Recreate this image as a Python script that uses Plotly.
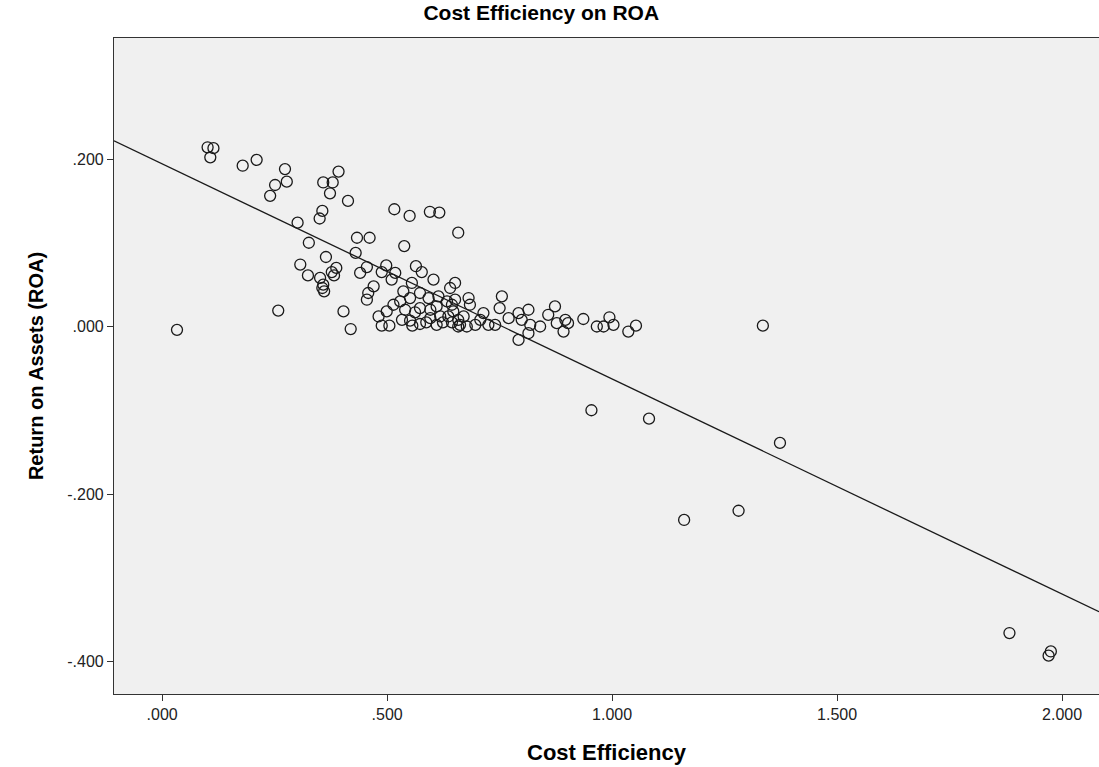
import numpy as np
import plotly.graph_objects as go

# Cost Efficiency (x) and Return on Assets (y)
cost_efficiency = [
    0.101, 0.114, 0.107, 0.179, 0.210, 0.273, 0.277, 0.251, 0.240, 0.358,
    0.379, 0.392, 0.373, 0.413, 0.356, 0.350, 0.301, 0.326, 0.364, 0.307,
    0.324, 0.351, 0.377, 0.387, 0.382, 0.358, 0.360, 0.356, 0.258, 0.033,
    0.403, 0.419, 0.433, 0.461, 0.430, 0.440, 0.455, 0.516, 0.550, 0.538,
    0.595, 0.616, 0.658, 0.498, 0.488, 0.518, 0.510, 0.564, 0.577, 0.603,
    0.470, 0.458, 0.455, 0.555, 0.536, 0.551, 0.529, 0.514, 0.499, 0.481,
    0.573, 0.592, 0.573, 0.596, 0.614, 0.633, 0.640, 0.651, 0.488, 0.505,
    0.533, 0.551, 0.596, 0.610, 0.618, 0.636, 0.658, 0.610, 0.681, 0.684,
    0.644, 0.647, 0.670, 0.662, 0.677, 0.696, 0.714, 0.707, 0.725, 0.740,
    0.755, 0.750, 0.770, 0.792, 0.814, 0.799, 0.818, 0.840, 0.792, 0.814,
    0.858, 0.873, 0.877, 0.896, 0.892, 0.936, 0.966, 0.981, 0.994, 1.003,
    1.036, 1.053, 0.902, 1.335, 0.954, 1.082, 1.373, 1.160, 1.281, 1.883,
    1.975, 1.970, 0.556, 0.573, 0.587, 0.562, 0.540, 0.624, 0.651, 0.658,
    0.644,
]
roa = [
    0.214, 0.213, 0.202, 0.192, 0.199, 0.188, 0.173, 0.169, 0.156, 0.172,
    0.172, 0.185, 0.159, 0.150, 0.138, 0.129, 0.124, 0.100, 0.083, 0.074,
    0.061, 0.058, 0.065, 0.070, 0.061, 0.050, 0.042, 0.046, 0.019, -0.004,
    0.018, -0.003, 0.106, 0.106, 0.088, 0.064, 0.071, 0.140, 0.132, 0.096,
    0.137, 0.136, 0.112, 0.073, 0.065, 0.064, 0.056, 0.072, 0.065, 0.056,
    0.048, 0.040, 0.032, 0.052, 0.042, 0.034, 0.030, 0.026, 0.018, 0.012,
    0.040, 0.034, 0.022, 0.020, 0.036, 0.030, 0.046, 0.052, 0.001, 0.001,
    0.008, 0.007, 0.010, 0.002, 0.012, 0.012, 0.000, 0.024, 0.034, 0.026,
    0.026, 0.018, 0.012, 0.002, 0.000, 0.002, 0.016, 0.008, 0.002, 0.002,
    0.036, 0.022, 0.010, 0.016, 0.020, 0.008, 0.002, 0.000, -0.016, -0.008,
    0.014, 0.024, 0.004, 0.008, -0.006, 0.009, 0.000, 0.000, 0.011, 0.002,
    -0.006, 0.001, 0.004, 0.001, -0.100, -0.110, -0.139, -0.231, -0.220, -0.366,
    -0.388, -0.393, 0.001, 0.003, 0.005, 0.017, 0.020, 0.005, 0.032, 0.008,
    0.005,
]

x_tick_vals = [0.0, 0.5, 1.0, 1.5, 2.0]
x_tick_text = [".000", ".500", "1.000", "1.500", "2.000"]
y_tick_vals = [-0.4, -0.2, 0.0, 0.2]
y_tick_text = ["-.400", "-.200", ".000", ".200"]
x_range = [-0.107, 2.082]
y_range = [-0.4388, 0.3445]

x = np.array(cost_efficiency)
y = np.array(roa)
slope, intercept = np.polyfit(x, y, 1)
line_x = np.array(x_range)
line_y = intercept + slope * line_x

FONT = "Liberation Sans, Arial, sans-serif"

fig = go.Figure()
fig.add_trace(go.Scatter(
    x=line_x, y=line_y, mode="lines",
    line=dict(color="#1a1a1a", width=1.3),
    hoverinfo="skip", showlegend=False,
))
fig.add_trace(go.Scatter(
    x=x, y=y, mode="markers",
    marker=dict(symbol="circle-open", size=11, color="#1a1a1a",
                line=dict(width=1.3, color="#1a1a1a")),
    showlegend=False,
))

fig.update_layout(
    width=1099, height=767,
    margin=dict(l=114, r=0, t=38, b=73),
    paper_bgcolor="white",
    plot_bgcolor="#F0F0F0",
    font=dict(family=FONT, color="#000000", size=15),
    title=dict(text="<b>Cost Efficiency on ROA</b>", xref="container", x=0.4925,
               xanchor="center", yref="container", y=0.984, yanchor="middle",
               font=dict(size=21, family=FONT, color="#000000")),
    xaxis=dict(
        range=x_range, tickvals=x_tick_vals, ticktext=x_tick_text,
        showgrid=False, zeroline=False,
        showline=True, linecolor="#333333", linewidth=1.2, mirror=True,
        ticks="outside", ticklen=6, tickcolor="#333333",
        tickfont=dict(size=16, family=FONT, color="#222222"),
        title=dict(text="<b>Cost Efficiency</b>", font=dict(size=22, family=FONT),
                   standoff=22),
    ),
    yaxis=dict(
        range=y_range, tickvals=y_tick_vals, ticktext=y_tick_text,
        showgrid=False, zeroline=False,
        showline=True, linecolor="#333333", linewidth=1.2, mirror=True,
        ticks="outside", ticklen=6, tickcolor="#333333",
        tickfont=dict(size=16, family=FONT, color="#222222"),
        title=dict(text="<b>Return on Assets (ROA)</b>", font=dict(size=20, family=FONT),
                   standoff=18),
    ),
)

fig.write_html("out.html")
